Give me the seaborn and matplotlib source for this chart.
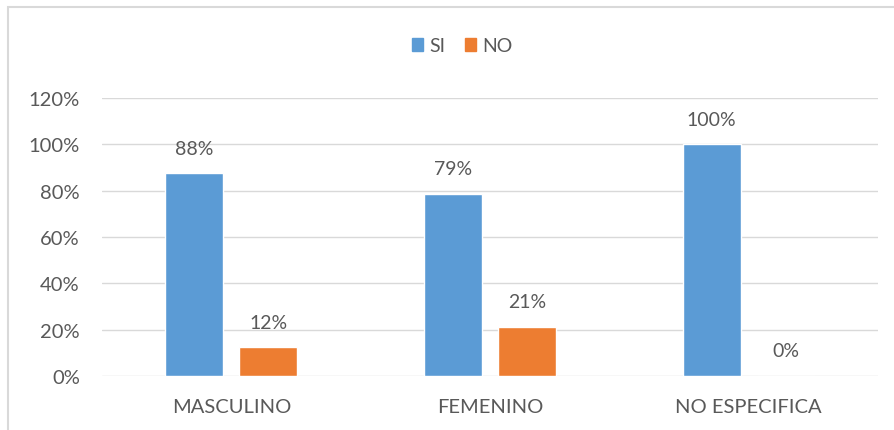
import pandas as pd
import seaborn as sns
import matplotlib.pyplot as plt
from matplotlib.patches import Rectangle

categorias = ["MASCULINO", "FEMENINO", "NO ESPECIFICA"]
respuestas = ["SI", "NO"]
si = [0.875, 0.786, 1.00]
no = [0.125, 0.214, 0.00]
yticks = [0, 0.2, 0.4, 0.6, 0.8, 1.0, 1.2]

df = pd.DataFrame({
    "categoria": categorias * 2,
    "respuesta": ["SI"] * 3 + ["NO"] * 3,
    "valor": si + no,
})

sns.set_theme(style="white")
plt.rcParams["font.family"] = ["Lato", "DejaVu Sans"]
text_color = "#595959"
grid_color = "#D9D9D9"

fig = plt.figure(figsize=(8.95, 4.31), dpi=100)
ax = fig.add_axes([0.114, 0.125, 0.867, 0.645])

sns.barplot(data=df, x="categoria", y="valor", hue="respuesta",
            order=categorias, hue_order=respuestas,
            palette=["#5B9BD5", "#ED7D31"], width=0.572, gap=0.217,
            saturation=1, ax=ax, legend=False)

for cont in ax.containers:
    ax.bar_label(cont, labels=[format(v, ".0%") for v in cont.datavalues],
                 padding=12, fontsize=14, color=text_color)

ax.set_ylim(0, 1.2)
ax.set_xlim(-0.5, 2.5)
ax.set_yticks(yticks)
ax.set_yticklabels([f"{int(round(t * 100))}%" for t in yticks])
ax.yaxis.grid(True, color=grid_color, linewidth=1)
ax.set_axisbelow(True)
for s in ax.spines.values():
    s.set_visible(False)
ax.tick_params(axis="both", length=0, labelsize=14.5, colors=text_color)
ax.tick_params(axis="y", pad=16)
ax.tick_params(axis="x", pad=16)
ax.set_xlabel("")
ax.set_ylabel("")

handles = [Rectangle((0, 0), 1, 1, color=c) for c in ["#5B9BD5", "#ED7D31"]]
fig.legend(handles, respuestas, loc="center", bbox_to_anchor=(462 / 895, 1 - 47 / 431),
           ncol=2, frameon=False, fontsize=14, labelcolor=text_color,
           handlelength=0.6, handleheight=0.6, handletextpad=0.3, columnspacing=1.0)

border = Rectangle((8 / 895, -0.1), 1.2, 1.1 - 8 / 431, transform=fig.transFigure,
                   fill=False, edgecolor=grid_color, linewidth=1.5)
fig.patches.append(border)

fig.savefig("out.png", dpi=100)
